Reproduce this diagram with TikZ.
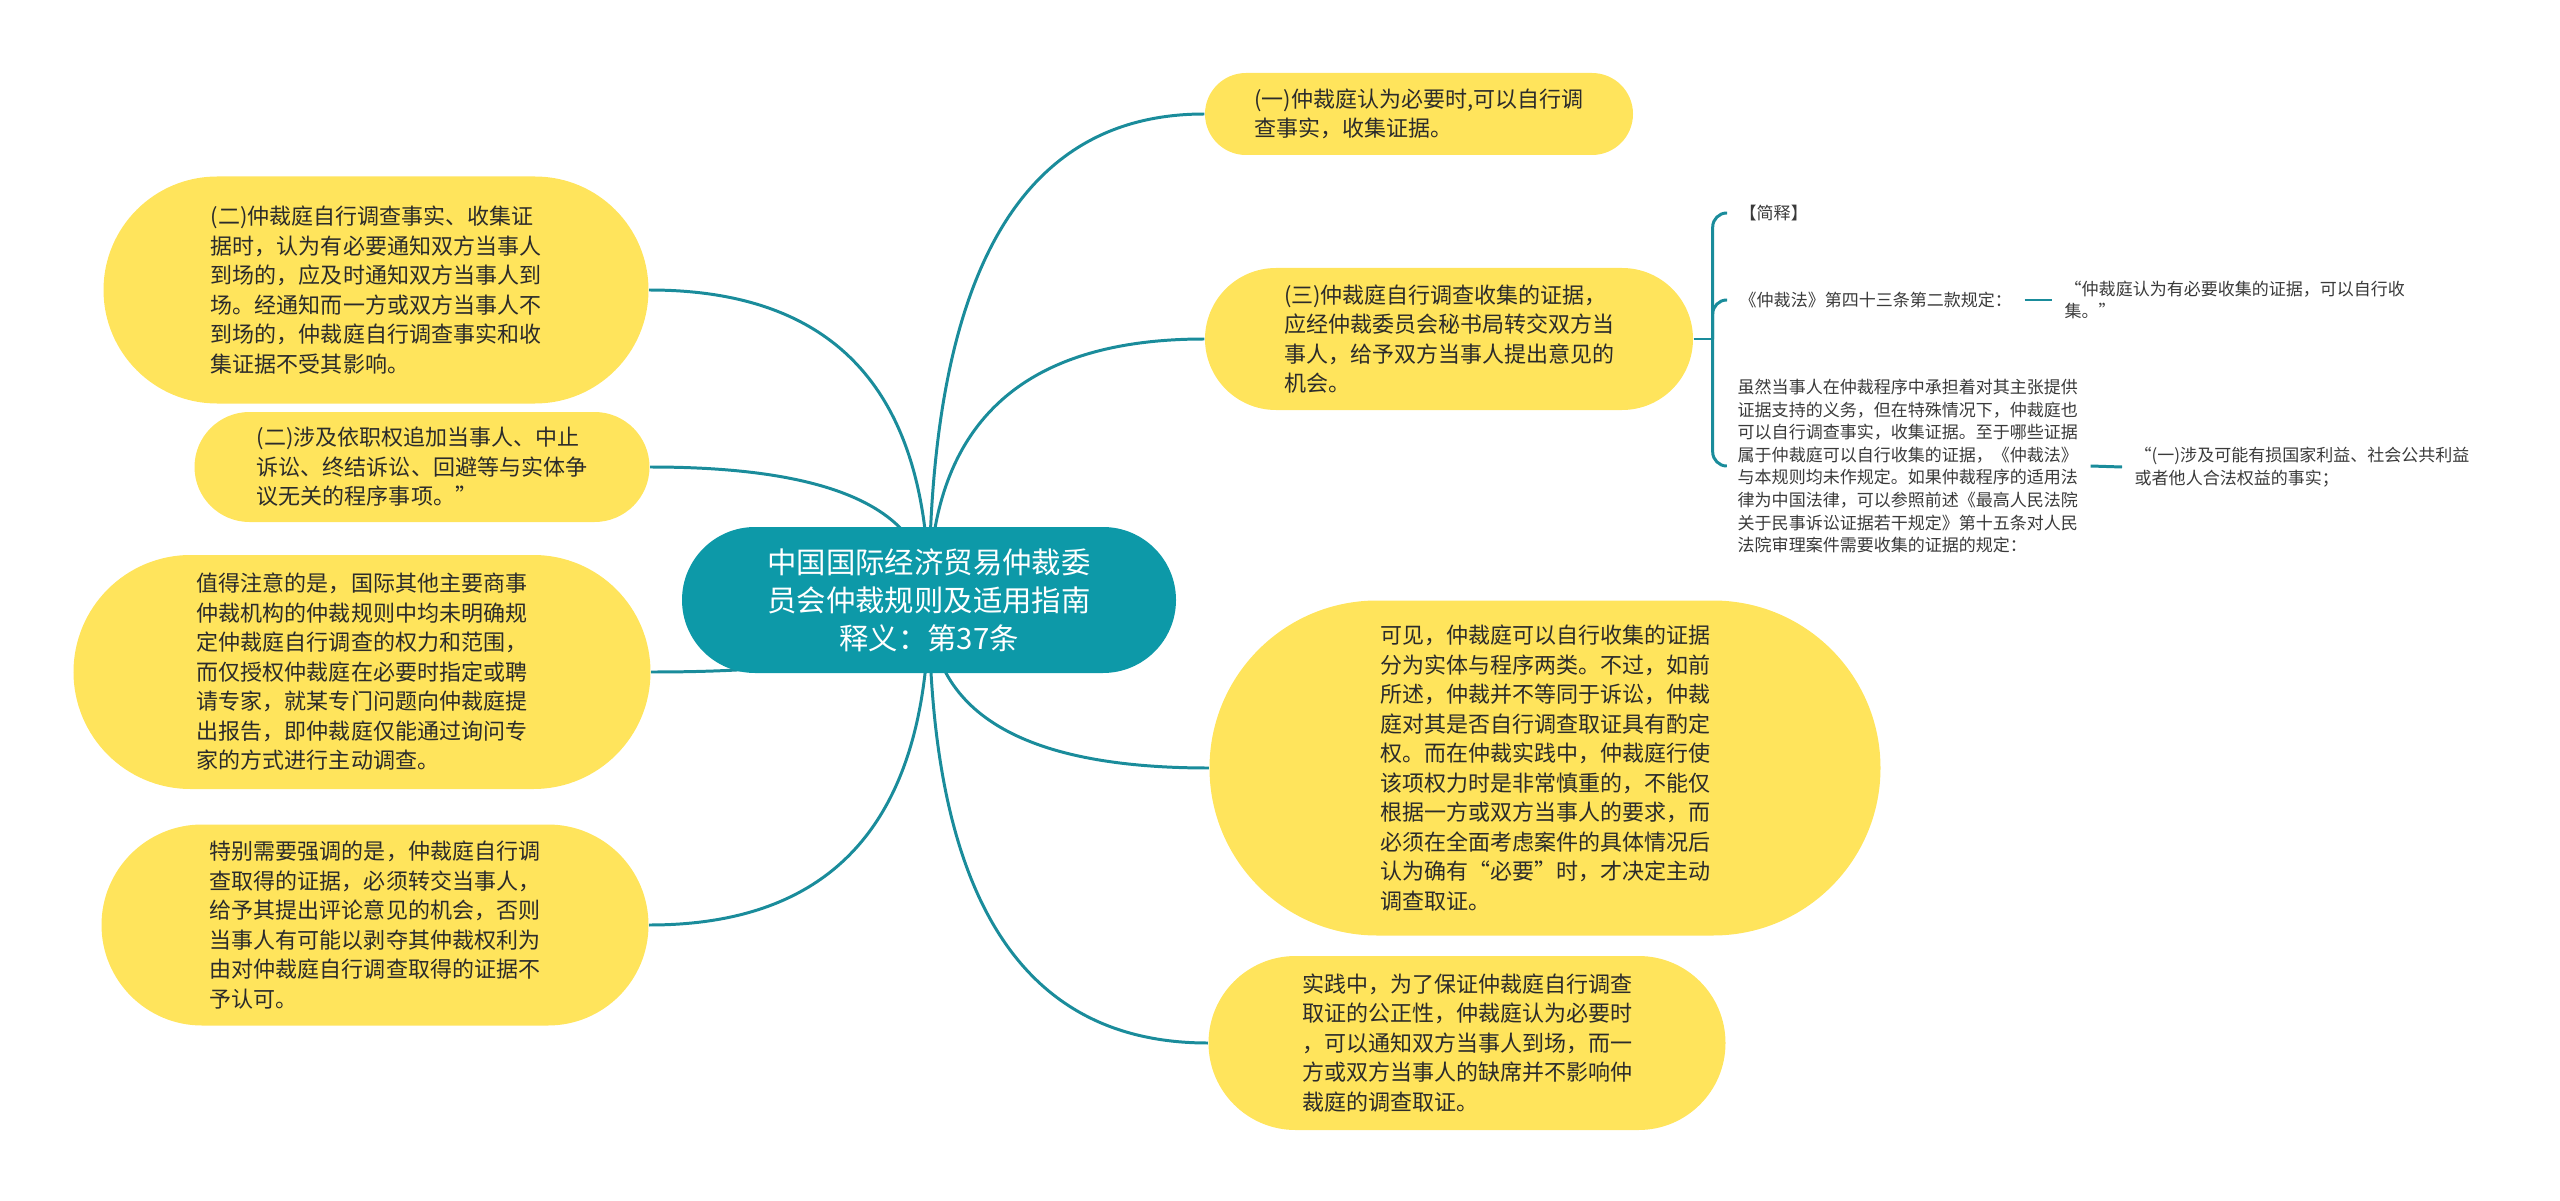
\documentclass[tikz,border=0pt]{standalone}
\usepackage{fontspec}
\setmainfont{Noto Sans CJK SC}
\usetikzlibrary{shapes.misc,calc,backgrounds}
\definecolor{pillyellow}{HTML}{FFE45C}
\definecolor{rootteal}{HTML}{0D99A8}
\definecolor{linkteal}{HTML}{1A8C9B}
\definecolor{inkdark}{HTML}{2B2B2B}
\definecolor{inkgrey}{HTML}{3A3A3A}
\tikzset{
  pillbox/.style={rounded rectangle, fill=pillyellow, text=inkdark, align=left, inner sep=0pt, font=\fontsize{6.26}{8.39}\selectfont},
  rootbox/.style={rounded rectangle, fill=rootteal, text=white, align=center, inner sep=0pt, font=\fontsize{8.36}{10.8}\selectfont},
  leafnote/.style={anchor=west, text=inkgrey, align=left, inner sep=0.12cm, font=\fontsize{4.84}{6.43}\selectfont},
  linkline/.style={draw=linkteal, line width=0.85pt},
  curvelink/.style={to path={.. controls ($(\tikztostart)!0.67!(\tikztostart |- \tikztotarget)$) and ($(\tikztotarget)!0.67!(\tikztostart |- \tikztotarget)$) .. (\tikztotarget)}}
}
\begin{document}
\begin{tikzpicture}
\useasboundingbox (0,0) rectangle (25.60,-12.01);

\node[rootbox, minimum width=4.94cm, minimum height=1.46cm] (root) at (9.29,-6.00) {中国国际经济贸易仲裁委\\员会仲裁规则及适用指南\\释义：第37条};

\node[pillbox, minimum width=5.45cm, minimum height=2.27cm] (l1) at (3.76,-2.90) {(二)仲裁庭自行调查事实、收集证\\据时，认为有必要通知双方当事人\\到场的，应及时通知双方当事人到\\场。经通知而一方或双方当事人不\\到场的，仲裁庭自行调查事实和收\\集证据不受其影响。};
\node[pillbox, minimum width=4.55cm, minimum height=1.10cm] (l2) at (4.22,-4.67) {(二)涉及依职权追加当事人、中止\\诉讼、终结诉讼、回避等与实体争\\议无关的程序事项。”};
\node[pillbox, minimum width=5.77cm, minimum height=2.34cm] (l3) at (3.62,-6.72) {值得注意的是，国际其他主要商事\\仲裁机构的仲裁规则中均未明确规\\定仲裁庭自行调查的权力和范围，\\而仅授权仲裁庭在必要时指定或聘\\请专家，就某专门问题向仲裁庭提\\出报告，即仲裁庭仅能通过询问专\\家的方式进行主动调查。};
\node[pillbox, minimum width=5.47cm, minimum height=2.01cm] (l4) at (3.75,-9.25) {特别需要强调的是，仲裁庭自行调\\查取得的证据，必须转交当事人，\\给予其提出评论意见的机会，否则\\当事人有可能以剥夺其仲裁权利为\\由对仲裁庭自行调查取得的证据不\\予认可。};

\node[pillbox, minimum width=4.28cm, minimum height=0.82cm] (r1) at (14.19,-1.14) {(一)仲裁庭认为必要时,可以自行调\\查事实，收集证据。};
\node[pillbox, minimum width=4.88cm, minimum height=1.42cm] (r2) at (14.49,-3.39) {(三)仲裁庭自行调查收集的证据，\\应经仲裁委员会秘书局转交双方当\\事人，给予双方当事人提出意见的\\机会。};
\node[pillbox, minimum width=6.71cm, minimum height=3.35cm] (r3) at (15.45,-7.68) {可见，仲裁庭可以自行收集的证据\\分为实体与程序两类。不过，如前\\所述，仲裁并不等同于诉讼，仲裁\\庭对其是否自行调查取证具有酌定\\权。而在仲裁实践中，仲裁庭行使\\该项权力时是非常慎重的，不能仅\\根据一方或双方当事人的要求，而\\必须在全面考虑案件的具体情况后\\认为确有“必要”时，才决定主动\\调查取证。};
\node[pillbox, minimum width=5.17cm, minimum height=1.74cm] (r4) at (14.67,-10.43) {实践中，为了保证仲裁庭自行调查\\取证的公正性，仲裁庭认为必要时\\，可以通知双方当事人到场，而一\\方或双方当事人的缺席并不影响仲\\裁庭的调查取证。};

\node[leafnote] (brief) at (17.27,-2.13) {【简释】};
\node[leafnote] (law) at (17.27,-3.00) {《仲裁法》第四十三条第二款规定：};
\node[leafnote] (lawtext) at (20.52,-3.00) {“仲裁庭认为有必要收集的证据，可以自行收\\集。”};
\node[leafnote] (reason) at (17.25,-4.66) {虽然当事人在仲裁程序中承担着对其主张提供\\证据支持的义务，但在特殊情况下，仲裁庭也\\可以自行调查事实，收集证据。至于哪些证据\\属于仲裁庭可以自行收集的证据，《仲裁法》\\与本规则均未作规定。如果仲裁程序的适用法\\律为中国法律，可以参照前述《最高人民法院\\关于民事诉讼证据若干规定》第十五条对人民\\法院审理案件需要收集的证据的规定：};
\node[leafnote] (rule) at (21.22,-4.67) {“(一)涉及可能有损国家利益、社会公共利益\\或者他人合法权益的事实；};

\begin{scope}[on background layer]
\draw[linkline] (root.center) to[curvelink] (l1.east);
\draw[linkline] (root.center) to[curvelink] (l2.east);
\draw[linkline] (root.center) to[curvelink] (l3.east);
\draw[linkline] (root.center) to[curvelink] (l4.east);
\draw[linkline] (root.center) to[curvelink] (r1.west);
\draw[linkline] (root.center) to[curvelink] (r2.west);
\draw[linkline] (root.center) to[curvelink] (r3.west);
\draw[linkline] (root.center) to[curvelink] (r4.west);
\draw[linkline] (r2.east) -- ++(0.19,0) coordinate (fork);
\draw[linkline, rounded corners=0.14cm] (fork) |- (brief.west);
\draw[linkline, rounded corners=0.14cm] (fork) |- (law.west);
\draw[linkline, rounded corners=0.14cm] (fork) |- (reason.west);
\draw[linkline] (law.east) -- (lawtext.west);
\draw[linkline] (reason.east) -- (rule.west);
\end{scope}
\end{tikzpicture}
\end{document}
